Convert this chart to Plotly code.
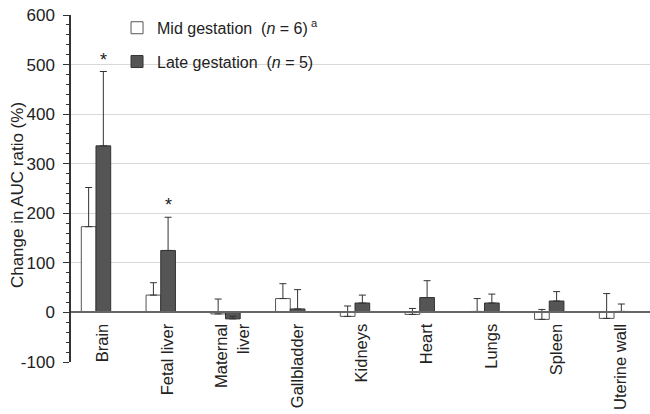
import plotly.graph_objects as go

categories = ["Brain", "Fetal liver", "Maternal<br>liver", "Gallbladder", "Kidneys",
              "Heart", "Lungs", "Spleen", "Uterine wall"]
mid_values = [173, 35, -3, 28, -8, -4, 2, -14, -12]
mid_errors = [79, 25, 30, 30, 21, 12, 26, 20, 50]
late_values = [336, 125, -13, 7, 19, 30, 19, 23, 2]
late_errors = [150, 67, 5, 39, 16, 34, 18, 19, 15]
significant = ["Brain", "Fetal liver"]
y_tick_values = [-100, 0, 100, 200, 300, 400, 500, 600]
y_tick_labels = ["-100", "0", "100", "200", "300", "400", "500", "600"]

FONT = "Liberation Sans, Arial, sans-serif"

fig = go.Figure()
fig.add_trace(go.Bar(
    x=categories, y=mid_values, name="Mid gestation  (<i>n</i> = 6)<sup> a</sup>",
    legendgroup="mid",
    marker=dict(color="white", line=dict(color="#555555", width=1)),
    error_y=dict(type="data", array=mid_errors, symmetric=False, arrayminus=[0]*9,
                 color="#333333", thickness=1, width=3.5),
))
fig.add_trace(go.Bar(
    x=categories, y=late_values, name="Late gestation  (<i>n</i> = 5)",
    legendgroup="late",
    marker=dict(color="#555555", line=dict(color="#333333", width=1)),
    error_y=dict(type="data", array=late_errors, symmetric=False, arrayminus=[0]*9,
                 color="#333333", thickness=1, width=3.5),
))

for cat in significant:
    i = categories.index(cat)
    fig.add_annotation(x=cat, y=late_values[i] + late_errors[i], xshift=7.5, yshift=12,
                       text="*", showarrow=False, font=dict(size=18, color="#222222", family=FONT))

# y-axis title placed as a rotated annotation to sit close to the left edge
fig.add_annotation(xref="paper", yref="paper", x=(17 - 71) / 579, y=0.481,
                   text="Change in AUC ratio (%)", textangle=-90, showarrow=False,
                   xanchor="center", yanchor="middle",
                   font=dict(size=17, color="#222222", family=FONT))

fig.update_layout(
    width=650, height=414,
    margin=dict(l=71, r=0, t=15, b=52),
    paper_bgcolor="white", plot_bgcolor="white",
    barmode="group", bargap=0.546, bargroupgap=0,
    font=dict(family=FONT, size=17, color="#222222"),
    showlegend=True,
    legend=dict(x=0.0795, y=1.012, xanchor="left", yanchor="top",
                bgcolor="rgba(0,0,0,0)", font=dict(size=16),
                traceorder="grouped", tracegroupgap=10, itemwidth=30),
)
fig.update_xaxes(
    type="category", autorange=False, range=[-0.386, 8.556],
    anchor="free", position=1/7, showline=True, linecolor="#666666", linewidth=1.5,
    ticks="", tickangle=-90, tickfont=dict(size=16.5), showgrid=False,
    ticklabelshift=7, ticklabelstandoff=4,
    automargin=False,
)
fig.update_yaxes(
    range=[-100, 600], autorange=False, tickvals=y_tick_values, ticktext=y_tick_labels,
    showline=True, linecolor="#333333", linewidth=1.5,
    ticks="outside", ticklen=6, tickcolor="#333333", ticklabelstandoff=5,
    tickfont=dict(size=17),
    minor=dict(dtick=20, ticks="outside", ticklen=3, tickcolor="#333333", showgrid=False),
    showgrid=True, gridcolor="#d9d9d9", gridwidth=1,
    zeroline=False,
    automargin=False,
)

fig.write_html("out.html", config={"displayModeBar": False},
               post_script="document.body.style.margin='0';")
